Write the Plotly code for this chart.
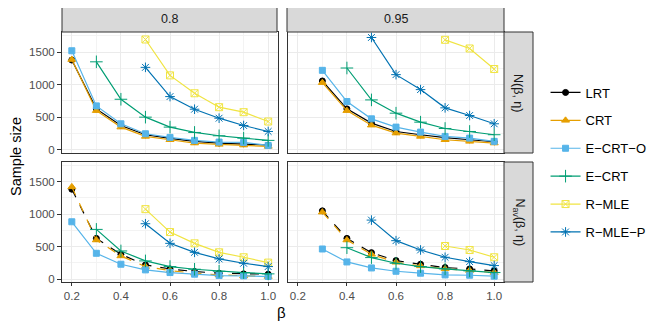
import plotly.graph_objects as go
from plotly.subplots import make_subplots

beta = [0.2, 0.3, 0.4, 0.5, 0.6, 0.7, 0.8, 0.9, 1.0]
methods = ["LRT", "CRT", "E-CRT-O", "E-CRT", "R-MLE", "R-MLE-P"]
labels = ["LRT", "CRT", "E\u2212CRT\u2212O", "E\u2212CRT", "R\u2212MLE", "R\u2212MLE\u2212P"]
colors = ["#000000", "#E69F00", "#56B4E9", "#009E73", "#F0E442", "#0072B2"]
symbols = ["circle", "triangle-up", "square", "cross-thin-open", "square-x-open", "asterisk-open"]
sizes = [6, 7, 6, 9, 7, 8]
eta_labels = ["0.8", "0.95"]

# N(beta, eta), eta = 0.8
n_08 = {
    "LRT": [1377, 627, 372, 230, 173, 128, 102, 92, 71],
    "CRT": [1385, 600, 347, 204, 153, 102, 82, 71, 51],
    "E-CRT-O": [1520, 673, 398, 245, 189, 143, 117, 112, 66],
    "E-CRT": [None, 1350, 775, 500, 347, 265, 214, 178, 143],
    "R-MLE": [None, None, None, 1693, 1142, 867, 653, 576, 433],
    "R-MLE-P": [None, None, None, 1265, 816, 622, 484, 372, 280],
}
# N(beta, eta), eta = 0.95
n_095 = {
    "LRT": [None, 1056, 627, 408, 280, 230, 184, 153, 122],
    "CRT": [None, 1030, 600, 377, 255, 204, 153, 128, 102],
    "E-CRT-O": [None, 1219, 740, 474, 347, 270, 204, 178, 128],
    "E-CRT": [None, None, 1255, 765, 561, 423, 326, 280, 230],
    "R-MLE": [None, None, None, None, None, None, 1688, 1555, 1239],
    "R-MLE-P": [None, None, None, 1724, 1153, 923, 643, 525, 398],
}
# N_av(beta, eta), eta = 0.8
nav_08 = {
    "LRT": [1382, 627, 382, 219, 158, 117, 92, 82, 77],
    "CRT": [1418, 602, 357, 194, 133, 92, 66, 51, 41],
    "E-CRT-O": [882, 398, 230, 143, 102, 77, 56, 51, 41],
    "E-CRT": [None, 765, 434, 281, 194, 153, 122, 102, 82],
    "R-MLE": [None, None, None, 1076, 724, 551, 413, 337, 255],
    "R-MLE-P": [None, None, None, 852, 551, 413, 311, 245, 194],
}
# N_av(beta, eta), eta = 0.95
nav_095 = {
    "LRT": [None, 1050, 627, 408, 286, 230, 179, 158, 128],
    "CRT": [None, 1030, 602, 382, 260, 204, 158, 133, 102],
    "E-CRT-O": [None, 464, 265, 173, 122, 92, 66, 61, 46],
    "E-CRT": [None, None, 484, 332, 245, 194, 158, 128, 102],
    "R-MLE": [None, None, None, None, None, None, 510, 449, 337],
    "R-MLE-P": [None, None, None, 908, 592, 449, 337, 270, 209],
}

panels = [(1, 1, n_08), (1, 2, n_095), (2, 1, nav_08), (2, 2, nav_095)]

fig = make_subplots(rows=2, cols=2, shared_xaxes=True, shared_yaxes=True,
                    horizontal_spacing=10 / 442, vertical_spacing=9 / 250)

for row, col, data in panels:
    for i, m in enumerate(methods):
        dashed = row == 2 and m in ("LRT", "CRT")
        fig.add_trace(go.Scatter(
            x=beta, y=data[m], mode="lines+markers", name=labels[i],
            legendgroup=m, showlegend=(row == 1 and col == 1),
            line=dict(color=colors[i], width=1.2, dash="dash" if dashed else "solid"),
            marker=dict(symbol=symbols[i], size=sizes[i], color=colors[i],
                        line=dict(color=colors[i], width=1)),
        ), row=row, col=col)

fig.update_xaxes(range=[0.16, 1.04], tickvals=[0.2, 0.4, 0.6, 0.8, 1.0],
                 ticktext=["0.2", "0.4", "0.6", "0.8", "1.0"],
                 showgrid=True, gridcolor="#EBEBEB", gridwidth=1,
                 minor=dict(tickvals=[0.3, 0.5, 0.7, 0.9], showgrid=True,
                            gridcolor="#F3F3F3", gridwidth=0.6),
                 showline=True, linecolor="#333333", linewidth=1, mirror=True,
                 ticks="outside", ticklen=3, tickcolor="#333333", automargin=False,
                 zeroline=False, tickfont=dict(size=11.5, color="#4D4D4D"))
fig.update_yaxes(range=[-43, 1808], tickvals=[0, 500, 1000, 1500],
                 showgrid=True, gridcolor="#EBEBEB", gridwidth=1,
                 minor=dict(tickvals=[250, 750, 1250, 1750], showgrid=True,
                            gridcolor="#F3F3F3", gridwidth=0.6),
                 showline=True, linecolor="#333333", linewidth=1, mirror=True,
                 ticks="outside", ticklen=4, tickcolor="#333333", automargin=False,
                 zeroline=False, tickfont=dict(size=11.5, color="#4D4D4D"))
# no ticks on inner facet edges
fig.update_xaxes(ticks="", row=1)
fig.update_yaxes(ticks="", col=2)

# facet strips
x1_end = 215 / 442
x2_start = 225 / 442
top_lo = 129 / 250
bot_hi = 120 / 250
strip_style = dict(type="rect", xref="paper", yref="paper",
                   fillcolor="#D9D9D9", line=dict(color="#333333", width=1))
fig.add_shape(x0=0, x1=x1_end, y0=1, y1=1.1, **strip_style)
fig.add_shape(x0=x2_start, x1=1, y0=1, y1=1.1, **strip_style)
fig.add_shape(x0=1, x1=1 + 29 / 442, y0=top_lo, y1=1, **strip_style)
fig.add_shape(x0=1, x1=1 + 29 / 442, y0=0, y1=bot_hi, **strip_style)

ann = dict(xref="paper", yref="paper", showarrow=False,
           xanchor="center", yanchor="middle",
           font=dict(size=12.5, color="#1A1A1A"))
fig.add_annotation(x=x1_end / 2, y=1.05, text=eta_labels[0], **ann)
fig.add_annotation(x=(x2_start + 1) / 2, y=1.05, text=eta_labels[1], **ann)
fig.add_annotation(x=1 + 14.5 / 442, y=(top_lo + 1) / 2, text="N(\u03b2, \u03b7)",
                   textangle=90, **ann)
fig.add_annotation(x=1 + 14.5 / 442, y=bot_hi / 2,
                   text="N<sub>av</sub>(\u03b2, \u03b7)", textangle=90, **ann)

fig.add_annotation(x=-46 / 442, y=0.5, text="Sample size", textangle=-90,
                   xref="paper", yref="paper", showarrow=False,
                   xanchor="center", yanchor="middle",
                   font=dict(size=14.5, color="#000000"))
fig.add_annotation(x=0.497, y=-30 / 250, text="\u03b2",
                   xref="paper", yref="paper", showarrow=False,
                   xanchor="center", yanchor="middle",
                   font=dict(size=15, color="#000000"))

# the page body adds an 8px offset, so the figure is 8px smaller on each side
fig.update_layout(
    width=656, height=324,
    margin=dict(l=54, r=160, t=24, b=50, autoexpand=False),
    plot_bgcolor="white", paper_bgcolor="white",
    font=dict(family="Liberation Sans, Arial, sans-serif"),
    legend=dict(x=1.094, y=0.478, xanchor="left", yanchor="middle",
                font=dict(size=13, color="#000000"), tracegroupgap=8,
                itemwidth=30, bgcolor="rgba(0,0,0,0)"),
)

fig.write_html("out.html")
